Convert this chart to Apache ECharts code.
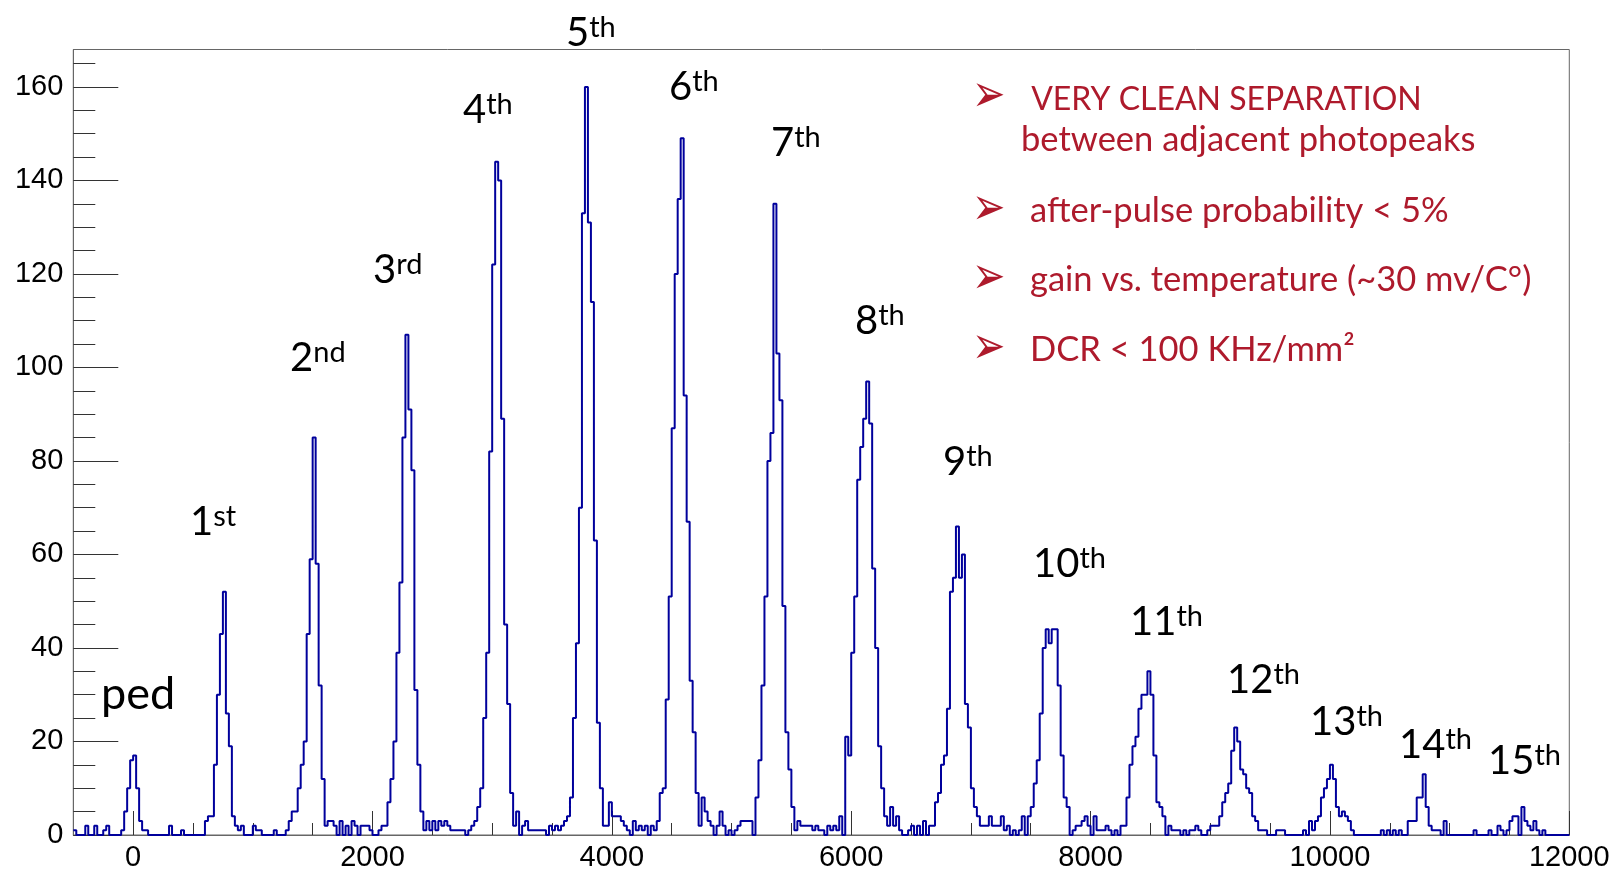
<!DOCTYPE html>
<html>
<head>
<meta charset="utf-8">
<title>SiPM photoelectron spectrum</title>
<script src="https://cdn.jsdelivr.net/npm/echarts@6/dist/echarts.min.js"></script>
<style>
  html, body { margin: 0; padding: 0; background: #ffffff; }
  #chart { width: 1618px; height: 872px; }
</style>
</head>
<body>
<div id="chart"></div>
<script>
// ---- histogram data: 500 bins of 25 ADC units, first bin starts at -500 ----
const binStart = -500;
const binWidth = 25;
const binCounts = [
  1,0,0,0,2,0,0,2,0,0,1,2,0,0,0,0,
  1,5,10,16,17,10,3,1,1,
  0,0,0,0,0,0,0,2,0,0,0,1,0,0,0,0,0,0,0,
  3,4,4,15,30,43,52,26,19,4,2,1,2,
  0,0,0,2,1,1,0,0,0,0,1,0,0,0,1,
  3,5,5,10,15,20,43,59,85,58,32,12,2,3,3,2,
  0,3,0,2,0,3,2,0,2,2,2,1,0,0,1,2,2,
  7,12,20,39,54,85,107,91,78,31,15,5,1,
  3,1,3,1,3,2,3,2,1,1,1,1,1,0,1,2,3,
  6,10,25,39,82,122,144,140,89,45,28,9,2,5,
  0,2,3,1,1,1,1,1,1,0,2,1,2,1,2,3,4,
  8,25,41,70,133,160,131,114,63,24,10,2,2,
  7,4,4,4,3,2,1,0,3,1,2,1,2,0,2,1,3,
  9,10,29,51,87,120,136,149,94,67,33,22,9,2,8,
  5,3,2,0,2,5,2,0,1,0,1,2,3,3,3,3,0,
  8,16,32,51,80,86,135,103,93,49,22,14,6,1,3,
  2,2,2,2,1,2,1,1,0,2,1,2,1,4,0,
  21,17,39,51,76,83,89,97,88,57,40,19,10,4,2,
  6,2,4,1,0,0,1,2,0,2,0,3,0,2,2,
  7,9,15,17,27,52,55,66,55,60,28,23,10,6,4,2,
  2,2,4,2,2,2,4,1,2,0,1,0,1,4,0,4,6,
  11,16,26,40,44,41,44,44,32,17,8,6,
  0,1,2,2,3,4,2,0,4,1,1,1,2,1,0,1,0,2,2,
  8,15,19,21,27,30,30,35,30,17,7,6,4,0,
  2,1,1,1,0,1,0,1,1,2,1,0,0,1,2,2,2,4,
  7,9,11,18,23,20,14,13,10,9,4,3,1,1,1,
  0,0,0,1,1,1,0,0,0,0,0,0,1,0,
  3,1,3,4,8,10,12,15,12,6,4,5,4,3,1,
  0,0,0,0,0,0,0,0,0,1,0,1,0,1,0,1,0,0,
  3,3,3,8,8,13,6,2,1,1,1,0,3,
  0,0,0,0,0,0,0,0,0,1,0,0,0,0,1,0,0,2,1,0,1,3,4,4,0,6,3,2,1,3,1,0,1,0,0,0,0,0,0,0,0
];

// ---- axes ----
const xRange = [-500, 12000];
const yRange = [0, 168];
const xMajorTicks = [0, 2000, 4000, 6000, 8000, 10000, 12000];
const xMinorTicks = [500, 1000, 1500, 2500, 3000, 3500, 4500, 5000, 5500, 6500, 7000, 7500,
                     8500, 9000, 9500, 10500, 11000, 11500];
const yMajorTicks = [0, 20, 40, 60, 80, 100, 120, 140, 160];
const yMinorTicks = [5, 10, 15, 25, 30, 35, 45, 50, 55, 65, 70, 75, 85, 90, 95,
                     105, 110, 115, 125, 130, 135, 145, 150, 155, 165];

// ---- annotation text ----
const peakNames = [
  ['ped', ''], ['1', 'st'], ['2', 'nd'], ['3', 'rd'], ['4', 'th'], ['5', 'th'],
  ['6', 'th'], ['7', 'th'], ['8', 'th'], ['9', 'th'], ['10', 'th'], ['11', 'th'],
  ['12', 'th'], ['13', 'th'], ['14', 'th'], ['15', 'th']
];
const bulletLines = [
  ' VERY CLEAN SEPARATION',
  'between adjacent photopeaks',
  'after-pulse probability < 5%',
  'gain vs. temperature (~30 mv/C°)',
  'DCR < 100 KHz/mm²'
];

// ---- layout ----
// left edge and text baseline (px) of each peak label
const peakLabelAnchors = [
  [101, 712], [190, 538], [290, 374], [373, 286], [463, 126], [566, 49],
  [669, 103], [771, 159], [855, 337], [943, 478], [1033, 580], [1130, 638],
  [1227, 696], [1310, 738], [1399, 761], [1488, 777]
];
// left edge, baseline and font size of each bullet text line
const bulletAnchors = [[1023, 112, 32], [1021, 153, 34.5], [1030, 224, 34.5], [1030, 293, 34.5], [1030, 363, 34.5]];
const arrowCenters = [97, 210, 279, 349];

const RED = '#ae1a2c';
const LABEL_FONT = 'Lato, "Open Sans", sans-serif';

// step-line points at every bin's left edge, closed at the last bin's right edge
const stepPoints = binCounts.map((c, i) => [binStart + i * binWidth, c]);
stepPoints.push([binStart + binCounts.length * binWidth, binCounts[binCounts.length - 1]]);

const graphics = [];
peakNames.forEach((p, i) => {
  const [x, base] = peakLabelAnchors[i];
  const mainSize = p[1] ? 40 : 45;
  graphics.push({
    type: 'text', x: x, y: base - (mainSize / 2 + 0.387 * mainSize), z: 100,
    style: {
      text: p[1] ? `{n|${p[0]}}{s|${p[1]}}` : `{n|${p[0]}}`,
      align: 'left', verticalAlign: 'top',
      rich: {
        n: { fontFamily: LABEL_FONT, fontSize: mainSize, lineHeight: mainSize, fill: '#000' },
        s: { fontFamily: LABEL_FONT, fontSize: 29, lineHeight: 24, verticalAlign: 'top', fill: '#000' }
      }
    }
  });
});

bulletLines.forEach((t, i) => {
  const [x, base, size] = bulletAnchors[i];
  graphics.push({
    type: 'text', x: x, y: base - 0.387 * size, z: 100,
    style: { text: t, fontFamily: LABEL_FONT, fontSize: size, fill: RED,
             align: 'left', verticalAlign: 'middle' }
  });
});
arrowCenters.forEach((cy) => {
  graphics.push({
    type: 'text', x: 972, y: cy, z: 100, scaleY: 1.3, originY: 0,
    style: { text: '\u27A2', fontFamily: '"DejaVu Sans"', fontSize: 40, fill: RED,
             align: 'left', verticalAlign: 'middle' }
  });
});

const chart = echarts.init(document.getElementById('chart'), null, { renderer: 'canvas' });
const tickColor = '#333';
const frameColor = '#666';
const axisFont = { fontFamily: '"Liberation Sans", Arial, sans-serif', fontSize: 29, color: '#000' };
const plainNumber = (v) => String(v);

chart.setOption({
  animation: false,
  backgroundColor: '#ffffff',
  grid: { left: 73.3, right: 48.7, top: 49.5, bottom: 36.3, show: true,
          borderColor: frameColor, borderWidth: 1, backgroundColor: 'transparent' },
  xAxis: [
    { type: 'value', min: xRange[0], max: xRange[1], position: 'bottom',
      axisLine: { show: true, onZero: false, lineStyle: { color: frameColor, width: 1 } },
      axisTick: { show: true, inside: true, length: 24, customValues: xMajorTicks,
                  lineStyle: { color: tickColor, width: 1 } },
      axisLabel: Object.assign({ show: true, margin: 8, customValues: xMajorTicks,
                                 formatter: plainNumber,
                                 showMinLabel: true, showMaxLabel: true }, axisFont),
      splitLine: { show: false } },
    { type: 'value', min: xRange[0], max: xRange[1], position: 'bottom',
      axisLine: { show: false, onZero: false },
      axisTick: { show: true, inside: true, length: 12, customValues: xMinorTicks,
                  lineStyle: { color: tickColor, width: 1 } },
      axisLabel: { show: false },
      splitLine: { show: false } }
  ],
  yAxis: [
    { type: 'value', min: yRange[0], max: yRange[1], position: 'left',
      axisLine: { show: true, onZero: false, lineStyle: { color: frameColor, width: 1 } },
      axisTick: { show: true, inside: true, length: 45, customValues: yMajorTicks,
                  lineStyle: { color: tickColor, width: 1 } },
      axisLabel: Object.assign({ show: true, margin: 10, customValues: yMajorTicks,
                                 formatter: plainNumber }, axisFont),
      splitLine: { show: false } },
    { type: 'value', min: yRange[0], max: yRange[1], position: 'left',
      axisLine: { show: false, onZero: false },
      axisTick: { show: true, inside: true, length: 22, customValues: yMinorTicks,
                  lineStyle: { color: tickColor, width: 1 } },
      axisLabel: { show: false },
      splitLine: { show: false } }
  ],
  series: [{
    type: 'line', xAxisIndex: 0, yAxisIndex: 0,
    step: 'end', symbol: 'none', clip: true,
    lineStyle: { color: '#00009c', width: 2 },
    data: stepPoints
  }],
  graphic: graphics
});
</script>
</body>
</html>
